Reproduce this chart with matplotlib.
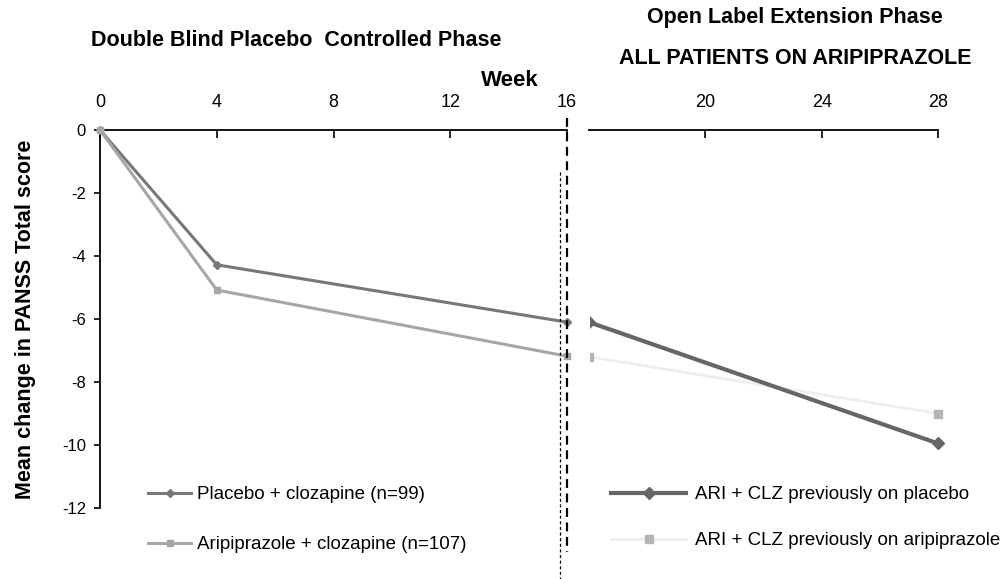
import matplotlib
matplotlib.use('Agg')
import matplotlib.pyplot as plt
from matplotlib.lines import Line2D
from matplotlib.patches import Rectangle

plt.rcParams['font.family'] = ['Liberation Sans', 'DejaVu Sans']

# 双盲期数据 (week 0-16)
weeks_db = [0, 4, 16]
placebo_db = [0, -4.28, -6.1]
aripiprazole_db = [0, -5.08, -7.18]

# 开放延伸期数据 (week 16-28)
weeks_ol = [16, 28]
prev_placebo_ol = [-6.1, -9.95]
prev_aripiprazole_ol = [-7.2, -9.0]

xticks_left = [0, 4, 8, 12, 16]
xticks_right = [20, 24, 28]
yticks = [0, -2, -4, -6, -8, -10, -12]

W, H = 1008, 579
fig = plt.figure(figsize=(W / 100, H / 100), dpi=100)


def fx(px):
    return px / W


def fy(py):
    return 1 - py / H


ax_l = fig.add_axes([fx(100), fy(508), fx(567 - 100), fy(130) - fy(508)])
ax_r = fig.add_axes([fx(589), fy(508), fx(938 - 589), fy(130) - fy(508)])

for ax in (ax_l, ax_r):
    ax.set_ylim(-12, 0)
    ax.patch.set_alpha(0)
    ax.spines['right'].set_visible(False)
    ax.spines['bottom'].set_visible(False)
    ax.spines['top'].set_linewidth(1.3)
    ax.xaxis.tick_top()
    ax.tick_params(axis='x', direction='in', length=6, width=1.2,
                   labelsize=13, pad=14)

ax_l.set_xlim(0, 16)
ax_l.set_xticks(xticks_left)
ax_l.set_yticks(yticks)
ax_l.set_yticklabels([str(v) for v in yticks])
ax_l.spines['left'].set_linewidth(1.3)
ax_l.tick_params(axis='y', direction='out', length=4, width=1.2,
                 labelsize=12, pad=6)
ax_l.set_ylabel('Mean change in PANSS Total score', fontsize=15.5,
                fontweight='bold', labelpad=19)

ax_r.set_xlim(16, 28)
ax_r.set_xticks(xticks_right)
ax_r.spines['left'].set_visible(False)
ax_r.set_yticks([])

# 左侧曲线
ax_l.plot(weeks_db, placebo_db, color='#777777', lw=2.2, marker='D',
          ms=4.5, label='Placebo + clozapine (n=99)', clip_on=False, zorder=3)
ax_l.plot(weeks_db, aripiprazole_db, color='#a6a6a6', lw=2.2, marker='s',
          ms=5, label='Aripiprazole + clozapine (n=107)', clip_on=False, zorder=3)

# 右侧曲线 (起点标记在左边缘被裁掉)
ln_a, = ax_r.plot(weeks_ol, prev_aripiprazole_ol, color='#eeeeee', lw=2,
                  marker='s', ms=6, mfc='#b4b4b4', mec='#b4b4b4',
                  label='ARI + CLZ previously on aripiprazole', zorder=2)
ln_p, = ax_r.plot(weeks_ol, prev_placebo_ol, color='#666666', lw=3,
                  marker='D', ms=6, label='ARI + CLZ previously on placebo',
                  zorder=3)
clip_rect = Rectangle((0.003, -0.2), 1.2, 1.4, transform=ax_r.transAxes)
for ln in (ln_a, ln_p):
    ln.set_clip_path(clip_rect)

# 图例
leg_l = ax_l.legend(loc='upper left', fontsize=13.5, frameon=False,
                    handlelength=2.3, handletextpad=0.3, labelspacing=1.75,
                    borderaxespad=0, borderpad=0)
leg_l.set_bbox_to_anchor((fx(148), fy(486)), transform=fig.transFigure)

h, lab = ax_r.get_legend_handles_labels()
leg_r = ax_r.legend(h[::-1], lab[::-1], loc='upper left', fontsize=13.5,
                    frameon=False, handlelength=4.0, handletextpad=0.5,
                    labelspacing=1.55, borderaxespad=0, borderpad=0)
leg_r.set_bbox_to_anchor((fx(611), fy(486)), transform=fig.transFigure)

# 分期分隔虚线
fig.add_artist(Line2D([fx(567), fx(567)], [fy(118), fy(552)], color='black',
                      lw=1.6, ls=(0, (4, 2.5))))
fig.add_artist(Line2D([fx(560), fx(560)], [fy(172), fy(579)], color='black',
                      lw=0.9, ls=(0, (2.5, 2))))

# 标题文字
fig.text(fx(296), fy(40), 'Double Blind Placebo  Controlled Phase',
         ha='center', va='center', fontsize=15.5, fontweight='bold')
fig.text(fx(795), fy(18), 'Open Label Extension Phase',
         ha='center', va='center', fontsize=15.5, fontweight='bold')
fig.text(fx(795), fy(58), 'ALL PATIENTS ON ARIPIPRAZOLE',
         ha='center', va='center', fontsize=15.5, fontweight='bold')
fig.text(fx(510), fy(80), 'Week', ha='center', va='center',
         fontsize=16, fontweight='bold')

fig.savefig('out.png', dpi=100, facecolor='white')
